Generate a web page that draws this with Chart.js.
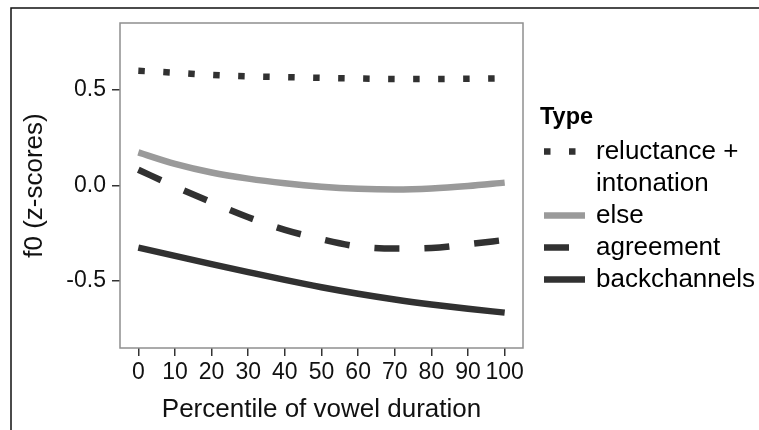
<!DOCTYPE html>
<html>
<head>
<meta charset="utf-8">
<script src="https://cdn.jsdelivr.net/npm/chart.js@4"></script>
<style>
  html, body { margin: 0; padding: 0; background: #fff; }
  #wrap { width: 759px; height: 430px; }
</style>
</head>
<body>
<div id="wrap"><canvas id="chart" width="759" height="430"></canvas></div>
<script>
// values (f0 z-scores per duration percentile)
const percentiles = [0, 10, 20, 30, 40, 50, 60, 70, 80, 90, 100];
const reluctance = [0.600, 0.590, 0.578, 0.571, 0.567, 0.563, 0.560, 0.557, 0.557, 0.558, 0.560];
const elseType = [0.173, 0.113, 0.068, 0.036, 0.012, -0.006, -0.017, -0.021, -0.016, -0.003, 0.015];
const agreement = [0.082, -0.005, -0.088, -0.166, -0.232, -0.281, -0.319, -0.330, -0.327, -0.307, -0.285];
const backchannels = [-0.325, -0.368, -0.411, -0.453, -0.494, -0.532, -0.566, -0.596, -0.622, -0.645, -0.665];
const seriesNames = [['reluctance +', 'intonation'], 'else', 'agreement', 'backchannels'];
const yTicks = [-0.5, 0, 0.5];
const xTicks = [0, 10, 20, 30, 40, 50, 60, 70, 80, 90, 100];

const FONT = '"Liberation Sans", Arial, Helvetica, sans-serif';
const dark = '#313131';
const grey = '#9a9a9a';

function points(values) {
    return percentiles.map((p, i) => ({ x: p, y: values[i] }));
}

// outer figure frame (top and left edges are visible in the crop)
const frame = {
    id: 'frame',
    afterDraw(chart) {
        const ctx = chart.ctx;
        ctx.save();
        ctx.strokeStyle = '#111';
        ctx.lineWidth = 1.5;
        ctx.beginPath();
        ctx.moveTo(759, 8);
        ctx.lineTo(11, 8);
        ctx.lineTo(11, 430);
        ctx.stroke();
        ctx.restore();
    }
};

// grey box round the panel
const panelBox = {
    id: 'panelBox',
    beforeDatasetsDraw(chart) {
        const a = chart.chartArea;
        const ctx = chart.ctx;
        ctx.save();
        ctx.strokeStyle = '#8f8f8f';
        ctx.lineWidth = 1.5;
        ctx.strokeRect(a.left, a.top, a.right - a.left, a.bottom - a.top);
        ctx.restore();
    }
};

// ggplot-like legend on the right
const typeLegend = {
    id: 'typeLegend',
    afterDraw(chart) {
        const ctx = chart.ctx;
        ctx.save();
        ctx.fillStyle = '#000';
        ctx.textBaseline = 'middle';
        ctx.font = 'bold 23.5px ' + FONT;
        ctx.fillText('Type', 540, 118);
        ctx.font = '26px ' + FONT;
        let y = 151.5;
        chart.data.datasets.forEach(ds => {
            ctx.save();
            ctx.strokeStyle = ds.borderColor;
            ctx.lineWidth = ds.borderWidth;
            ctx.setLineDash(ds.borderDash || []);
            ctx.beginPath();
            ctx.moveTo(544, y);
            ctx.lineTo(585, y);
            ctx.stroke();
            ctx.restore();
            const lines = Array.isArray(ds.label) ? ds.label : [ds.label];
            lines.forEach(line => {
                ctx.fillText(line, 596, y);
                y += 32;
            });
        });
        ctx.restore();
    }
};

const common = {
    pointRadius: 0,
    borderWidth: 6.5,
    fill: false,
    cubicInterpolationMode: 'monotone',
    borderCapStyle: 'butt'
};

const ctx = document.getElementById('chart').getContext('2d');
const myChart = new Chart(ctx, {
    type: 'line',
    data: {
        datasets: [
            { ...common, label: seriesNames[0], data: points(reluctance), borderColor: dark, borderDash: [6.5, 18.5] },
            { ...common, label: seriesNames[1], data: points(elseType), borderColor: grey },
            { ...common, label: seriesNames[2], data: points(agreement), borderColor: dark, borderDash: [25, 25] },
            { ...common, label: seriesNames[3], data: points(backchannels), borderColor: dark }
        ]
    },
    options: {
        responsive: false,
        animation: false,
        devicePixelRatio: 1,
        layout: { padding: { top: 23, right: 236, left: 0, bottom: 0 } },
        plugins: {
            legend: { display: false },
            tooltip: { enabled: false }
        },
        scales: {
            x: {
                type: 'linear',
                min: -5,
                max: 105,
                afterBuildTicks: scale => { scale.ticks = xTicks.map(v => ({ value: v })); },
                afterFit: scale => { scale.height = 82; },
                border: { display: false },
                grid: { drawOnChartArea: false, drawTicks: true, tickLength: 8, color: '#333', lineWidth: 1.5 },
                ticks: {
                    color: '#111',
                    padding: 3,
                    maxRotation: 0,
                    autoSkip: false,
                    font: { family: FONT, size: 23 },
                    callback: v => String(v)
                },
                title: {
                    display: true,
                    text: 'Percentile of vowel duration',
                    color: '#111',
                    font: { family: FONT, size: 26 },
                    padding: { top: 0, bottom: 4.5 }
                }
            },
            y: {
                min: -0.85,
                max: 0.85,
                afterBuildTicks: scale => { scale.ticks = yTicks.map(v => ({ value: v })); },
                afterFit: scale => { scale.width = 120; },
                border: { display: false },
                grid: { drawOnChartArea: false, drawTicks: true, tickLength: 8, color: '#333', lineWidth: 1.5 },
                ticks: {
                    color: '#111',
                    padding: 6,
                    font: { family: FONT, size: 23 },
                    callback: v => Number(v).toFixed(1)
                },
                title: {
                    display: true,
                    text: 'f0 (z-scores)',
                    color: '#111',
                    font: { family: FONT, size: 26 },
                    padding: { top: 19.5, bottom: 0 }
                }
            }
        }
    },
    plugins: [panelBox, typeLegend, frame]
});
</script>
</body>
</html>
